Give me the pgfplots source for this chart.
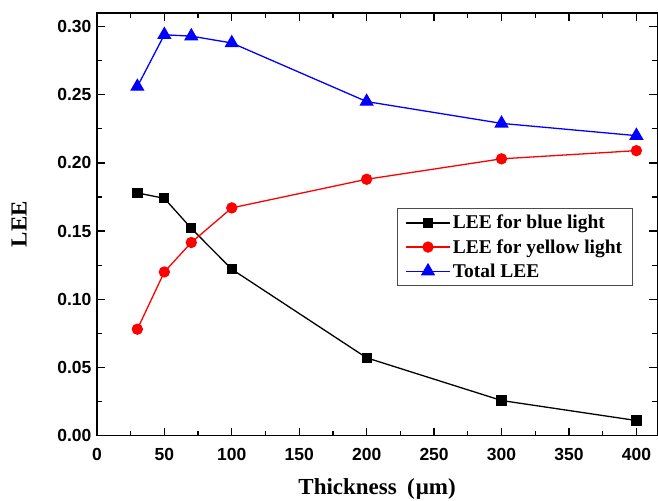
\documentclass[border=0pt]{standalone}
\usepackage{pgfplots}
\pgfplotsset{compat=1.18}
\usepackage{fontspec}
\setmainfont{Liberation Serif}
\newfontfamily\ticksf{Liberation Sans}
\begin{document}
\begin{tikzpicture}
\begin{axis}[
  scale only axis,
  width=561pt, height=423pt,
  xmin=0, xmax=415.5, ymin=0, ymax=0.31,
  xtick={0,50,...,400},
  ytick={0,0.05,...,0.30},
  minor x tick num=1, minor y tick num=1,
  tick align=inside,
  major tick length=8pt, minor tick length=5pt,
  every tick/.style={line width=1.2pt, black},
  axis line style={line width=1.4pt},
  /pgf/number format/assume math mode=true,
  yticklabel style={/pgf/number format/fixed, /pgf/number format/fixed zerofill, /pgf/number format/precision=2, xshift=-2pt},
  ticklabel style={font=\ticksf\bfseries\fontsize{17.5}{20}\selectfont},
  xticklabel style={yshift=-9pt},
  xlabel={\bfseries\fontsize{23}{26}\selectfont Thickness\hspace{0.45em}(\hspace{0.05em}μm)},
  ylabel={\bfseries\fontsize{23}{26}\selectfont LEE},
  xlabel style={yshift=-11pt},
  ylabel style={yshift=24pt},
  legend style={at={(rel axis cs:0.535,0.539)}, anchor=north west,
    draw=black!70, line width=1pt, font=\bfseries\fontsize{19.5}{22}\selectfont,
    row sep=5pt, inner xsep=8pt, inner ysep=5pt},
  legend cell align=left,
  legend image code/.code={\draw[mark repeat=2,mark phase=2] plot coordinates {(0cm,0cm) (0.78cm,0cm) (1.56cm,0cm)};},
]
\addplot[black, line width=1.3pt, mark=square*, mark size=4.5pt] coordinates {
(30,0.178) (50,0.174) (70,0.152) (100,0.122) (200,0.057) (300,0.0257) (400,0.011)};
\addlegendentry{LEE for blue light}
\addplot[red, line width=1.3pt, mark=*, mark size=5pt] coordinates {
(30,0.078) (50,0.120) (70,0.1416) (100,0.167) (200,0.188) (300,0.203) (400,0.209)};
\addlegendentry{LEE for yellow light}
\addplot[blue, line width=1.3pt, mark=triangle*, mark size=7pt] coordinates {
(30,0.256) (50,0.294) (70,0.293) (100,0.288) (200,0.245) (300,0.229) (400,0.220)};
\addlegendentry{Total LEE}
\coordinate (sw) at (rel axis cs:0,0);
\coordinate (ne) at (rel axis cs:1,1);
\end{axis}
\pgfresetboundingbox
\path[use as bounding box] ([xshift=-97pt,yshift=-65pt]sw) rectangle ([xshift=0.7pt,yshift=13pt]ne);
\end{tikzpicture}
\end{document}
